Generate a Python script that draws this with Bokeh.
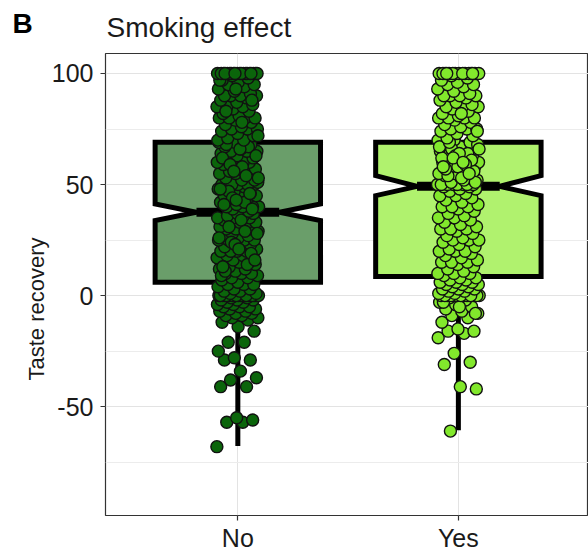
from bokeh.plotting import figure
from bokeh.models import Range1d, FixedTicker, Label, ColumnDataSource, Title
from bokeh.embed import file_html
from bokeh.resources import INLINE

# ---------------- data ----------------
groups = ["No", "Yes"]
group_pos = [1, 2]

# box statistics
q1 = [6.0, 8.6]
median = [37.5, 49.2]
q3 = [69.0, 69.0]
notch_lo = [33.8, 45.0]
notch_hi = [41.3, 54.0]
whisker_lo = [-67.7, -60.6]
whisker_hi = [100, 100]

y_ticks = [-50, 0, 50, 100]
y_tick_labels = ["-50", "0", "50", "100"]
y_minor_ticks = [-75, -25, 25, 75]

no_vals = [
    -68, -57, -57, -56, -55, -41, -41, -38, -37, -34, -29, -29, -28, -25, -21, -21, -16, -14,
    -12, -11, -10, -10, -9, -9, -8, -8, -7, -7, -6, -6, -5, -5, -5, -4, -4, -3, -3, -2, -2, -2, -1, -1,
] + [0] * 20 + [
    1, 1, 2, 2, 3, 3, 4, 5, 5, 5,
    6, 7, 8, 8, 9, 10, 10, 10, 11, 12, 12, 13, 14, 15, 15, 15, 16, 17, 18, 18, 19, 20, 20, 20, 20,
    21, 22, 22, 23, 24, 25, 25, 25, 25, 26, 27, 27, 28, 29, 30, 30, 30, 30, 31, 32, 32, 33, 33, 34,
    35, 35, 35, 36, 36, 37, 37, 9, 14, 24, 28, 34, 11, 19, 23, 26, 29, 31, 16, 21, 13,
    38, 39, 40, 40, 40, 40, 41, 42, 43, 44, 45, 45, 45, 46, 47, 48, 49, 50, 50, 50, 50, 50, 50,
    51, 52, 53, 54, 55, 55, 55, 56, 57, 58, 59, 60, 60, 60, 60, 61, 62, 63, 64, 65, 65, 65, 66,
    67, 68, 69, 69, 42, 47, 52, 57, 62, 67, 44, 53, 58, 68, 39, 43, 48, 54, 59, 63, 66, 41, 46, 56,
    70, 70, 71, 72, 73, 74, 75, 75, 75, 76, 77, 78, 79, 80, 80, 80, 80, 81, 82, 83, 84, 85, 85, 85,
    86, 87, 88, 89, 90, 90, 90, 90, 91, 92, 93, 94, 95, 95, 96, 97, 98, 99, 72, 78, 83, 88, 93, 97,
] + [100] * 20

yes_vals = [
    -61, -42, -41, -31, -30, -26, -19, -17, -16, -16, -15, -12, -10, -9, -8, -7, -6, -5, -4, -3,
    -2, -1, -8, -5, -3,
] + [0] * 14 + [
    1, 1, 2, 2, 3, 3, 3, 4, 4, 5, 5, 5, 6, 6, 6, 7, 7, 8, 8,
    9, 10, 10, 10, 11, 12, 13, 14, 15, 15, 15, 16, 17, 18, 19, 20, 20, 20, 21, 22, 23, 24, 25, 25,
    25, 26, 27, 28, 29, 30, 30, 30, 31, 32, 33, 34, 35, 35, 36, 37, 38, 39, 40, 40, 40, 41, 42, 43,
    44, 45, 45, 46, 47, 48, 48, 49, 49,
] + [50] * 8 + [
    51, 52, 53, 54, 55, 55, 55, 56, 57, 58, 59, 60, 60, 60, 60, 61, 62, 63, 64, 65, 65, 65, 66, 67,
    68, 69, 70, 70, 52, 54, 56, 58, 62, 64, 66, 68, 53, 57, 61, 63, 67, 59, 69, 51, 64, 58, 55, 62,
    66, 60,
    71, 72, 73, 74, 75, 75, 75, 76, 77, 78, 79, 80, 80, 80, 80, 81, 82, 83, 84, 85, 85, 85, 86, 87,
    88, 89, 90, 90, 90, 90, 91, 92, 93, 94, 95, 95, 96, 97, 98, 99, 74, 82,
] + [100] * 15

group_vals = [no_vals, yes_vals]

# ---------------- styles ----------------
point_fill = ["#0B650B", "#82E82C"]
box_fill = ["#6A9E6A", "#B0F26E"]
FONT = "Liberation Sans"
BOX_HALF = 0.375
JITTER = 0.095

p = figure(width=588, height=560, output_backend="svg", toolbar_location=None,
           x_range=Range1d(0.4, 2.59), y_range=Range1d(-99, 109),
           min_border_left=105, min_border_right=0, min_border_top=53, min_border_bottom=45)
p.background_fill_color = "white"
p.border_fill_color = "white"
p.outline_line_color = "#333333"
p.outline_line_width = 1.2

p.title = Title(text="Smoking effect", align="left", text_font=FONT, text_font_size="28px",
                text_font_style="normal", text_color="#1a1a1a", standoff=18, offset=1,
                vertical_align="top")

# whiskers
p.segment(x0=group_pos, y0=q1, x1=group_pos, y1=whisker_lo, line_color="black", line_width=5)
p.segment(x0=group_pos, y0=q3, x1=group_pos, y1=whisker_hi, line_color="black", line_width=5)

# notched boxes
xs, ys = [], []
for i, c in enumerate(group_pos):
    w = BOX_HALF
    xs.append([c - w, c - w, c - w / 2, c - w, c - w, c + w, c + w, c + w / 2, c + w, c + w])
    ys.append([q1[i], notch_lo[i], median[i], notch_hi[i], q3[i], q3[i], notch_hi[i],
               median[i], notch_lo[i], q1[i]])
p.patches(xs=xs, ys=ys, fill_color=box_fill, line_color="black", line_width=5,
          line_join="miter")

# medians
p.segment(x0=[c - BOX_HALF / 2 for c in group_pos], y0=median,
          x1=[c + BOX_HALF / 2 for c in group_pos], y1=median,
          line_color="black", line_width=9)

# jittered points (deterministic low-discrepancy jitter)
phi = 0.6180339887
for gi, (c, vals) in enumerate(zip(group_pos, group_vals)):
    px = [c + ((k * phi + 0.31 * gi) % 1.0 - 0.5) * 2 * JITTER for k in range(len(vals))]
    src = ColumnDataSource(dict(x=px, y=vals))
    p.scatter("x", "y", source=src, size=12, fill_color=point_fill[gi],
              line_color="#111111", line_width=1.4)

# axes
p.xaxis.ticker = FixedTicker(ticks=group_pos)
p.xaxis.major_label_overrides = {pos: g for pos, g in zip(group_pos, groups)}
p.yaxis.ticker = FixedTicker(ticks=y_ticks, minor_ticks=y_minor_ticks)
p.yaxis.major_label_overrides = {t: s for t, s in zip(y_ticks, y_tick_labels)}
for ax in (p.xaxis[0], p.yaxis[0]):
    ax.axis_line_color = None
    ax.major_tick_line_color = "#333333"
    ax.major_tick_line_width = 1.2
    ax.major_tick_out = 5
    ax.major_tick_in = 0
    ax.minor_tick_line_color = None
    ax.major_label_text_font = FONT
    ax.major_label_text_font_size = "25px"
    ax.major_label_text_color = "#1a1a1a"
p.xaxis.major_label_standoff = 3
p.yaxis.major_label_standoff = 7
p.yaxis.axis_label = "Taste recovery" + "\u00a0" * 8
p.yaxis.axis_label_text_font = FONT
p.yaxis.axis_label_text_font_size = "22px"
p.yaxis.axis_label_text_font_style = "normal"
p.yaxis.axis_label_text_color = "#1a1a1a"
p.yaxis.axis_label_standoff = 0

p.xgrid.grid_line_color = "#e3e3e3"
p.xgrid.grid_line_width = 1
p.ygrid.grid_line_color = "#e3e3e3"
p.ygrid.grid_line_width = 1
p.ygrid.minor_grid_line_color = "#ececec"
p.ygrid.minor_grid_line_width = 1

# panel letter, placed in the left side panel (outside the frame)
p.add_layout(Label(x=12, y=492, x_units="screen", y_units="screen", text="B",
                   text_font=FONT, text_font_size="28px", text_font_style="bold",
                   text_color="black", text_baseline="alphabetic"), "left")

open("out.html", "w").write(file_html(p, INLINE))
